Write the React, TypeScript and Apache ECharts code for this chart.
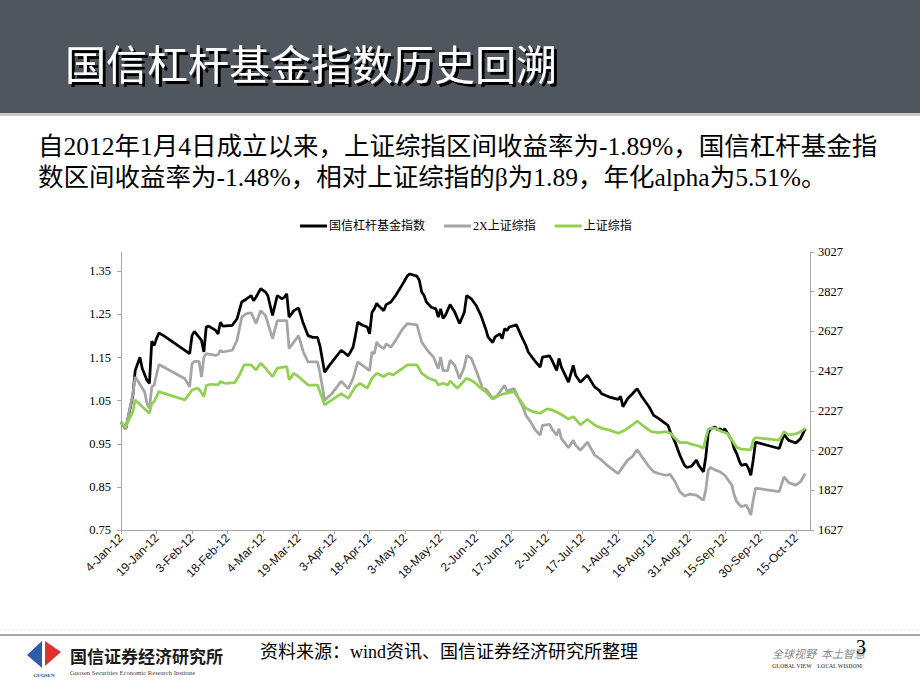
import React, { useEffect, useRef } from "react";
import * as echarts from "echarts";

// ---- Data (x = days since 4-Jan-2012) ----
const seriesNames = ["国信杠杆基金指数", "2X上证综指", "上证综指"];

const fundDays = [0,2,5,6,8,9,11,12,13,14,15,16,18,27,29,30,31,33,34,35,36,37,40,41,42,43,47,49,51,53,55,56,57,59,61,62,64,66,68,69,70,71,73,75,77,79,81,83,84,86,88,93,94,96,98,99,100,102,104,105,106,107,108,109,111,112,114,116,119,121,122,125,126,127,128,129,131,133,134,135,136,137,139,141,143,145,146,148,150,152,154,155,157,158,160,161,162,163,164,167,169,171,172,174,175,177,178,181,182,184,185,186,189,191,192,194,197,200,202,203,206,210,211,212,214,216,218,220,223,225,227,229,231,232,234,236,238,239,241,243,244,246,247,248,249,251,252,253,254,255,258,259,260,261,262,264,265,266,267,268,278,280,282,285,287,289];
const fundValues = [1.000,0.985,1.062,1.120,1.151,1.124,1.097,1.090,1.188,1.178,1.194,1.207,1.201,1.167,1.159,1.201,1.211,1.197,1.190,1.163,1.221,1.223,1.213,1.205,1.232,1.223,1.225,1.240,1.279,1.286,1.294,1.282,1.290,1.310,1.302,1.294,1.248,1.294,1.286,1.290,1.298,1.244,1.259,1.265,1.229,1.201,1.197,1.197,1.178,1.116,1.132,1.167,1.163,1.154,1.174,1.201,1.232,1.225,1.221,1.205,1.255,1.263,1.276,1.269,1.259,1.273,1.279,1.294,1.321,1.340,1.344,1.339,1.329,1.302,1.294,1.279,1.267,1.263,1.244,1.263,1.241,1.248,1.273,1.255,1.229,1.255,1.294,1.286,1.271,1.248,1.217,1.198,1.185,1.198,1.205,1.194,1.217,1.213,1.221,1.226,1.201,1.178,1.163,1.148,1.141,1.128,1.151,1.154,1.144,1.120,1.148,1.128,1.093,1.132,1.109,1.093,1.109,1.082,1.074,1.066,1.059,1.053,1.060,1.036,1.055,1.066,1.078,1.059,1.036,1.016,1.009,1.001,0.993,0.978,0.954,0.924,0.900,0.895,0.898,0.912,0.900,0.885,0.920,0.974,0.985,0.989,0.982,0.985,0.978,0.985,0.958,0.939,0.928,0.912,0.900,0.903,0.893,0.877,0.912,0.954,0.939,0.972,0.958,0.952,0.962,0.985];

const doubleDays = [0,2,5,6,7,10,11,12,13,14,16,18,27,29,30,31,33,34,35,36,40,41,42,43,47,49,51,53,55,57,59,61,64,66,70,71,73,75,77,79,83,84,86,89,93,96,98,100,102,105,106,107,108,109,111,112,114,116,119,121,125,127,128,130,132,134,135,136,138,139,141,143,145,146,148,150,152,153,154,157,159,160,162,163,164,166,168,170,171,173,175,177,178,181,182,184,185,186,189,191,192,194,197,200,203,206,210,212,214,216,218,220,223,225,227,230,232,234,236,238,240,243,246,247,248,249,251,253,255,258,259,260,262,264,265,266,267,268,278,280,282,285,287,289];
const doubleValues = [1.000,0.984,1.066,1.105,1.097,1.070,1.043,1.032,1.082,1.086,1.134,1.128,1.101,1.082,1.136,1.141,1.141,1.105,1.151,1.159,1.155,1.157,1.167,1.163,1.167,1.190,1.244,1.252,1.254,1.229,1.259,1.248,1.194,1.236,1.236,1.171,1.186,1.201,1.163,1.140,1.140,1.116,1.051,1.066,1.095,1.078,1.101,1.140,1.132,1.120,1.163,1.159,1.186,1.178,1.171,1.182,1.174,1.190,1.217,1.229,1.226,1.186,1.178,1.163,1.151,1.124,1.151,1.120,1.120,1.144,1.132,1.101,1.128,1.155,1.148,1.120,1.090,1.074,1.078,1.055,1.063,1.070,1.086,1.072,1.074,1.078,1.055,1.032,1.016,1.001,0.982,0.970,0.993,0.995,0.985,0.970,0.985,0.962,0.941,0.958,0.947,0.935,0.954,0.924,0.912,0.897,0.881,0.897,0.912,0.920,0.937,0.920,0.897,0.885,0.881,0.877,0.879,0.862,0.839,0.829,0.833,0.831,0.819,0.843,0.889,0.895,0.889,0.885,0.877,0.854,0.831,0.816,0.804,0.808,0.798,0.785,0.819,0.847,0.839,0.873,0.860,0.854,0.862,0.881];

const sseDays = [0,2,5,6,9,12,13,14,16,27,30,32,33,35,36,38,41,42,44,48,50,52,55,57,59,61,64,66,70,71,73,75,79,83,86,88,93,96,99,101,104,106,108,111,113,115,118,121,125,127,130,133,134,136,138,139,142,146,149,152,154,157,160,163,166,169,171,174,177,180,182,185,189,191,192,194,197,200,203,206,210,213,216,218,221,224,227,230,232,234,236,239,242,244,246,247,248,249,251,254,256,258,260,262,266,267,268,278,280,282,285,287,289];
const sseValues = [2170,2147,2223,2282,2248,2215,2265,2273,2324,2282,2332,2341,2336,2299,2354,2361,2358,2374,2366,2369,2408,2458,2458,2433,2467,2442,2399,2442,2450,2383,2416,2399,2357,2357,2257,2273,2314,2290,2349,2366,2341,2391,2416,2399,2416,2408,2433,2458,2458,2416,2391,2378,2357,2366,2357,2378,2341,2391,2374,2341,2324,2287,2307,2316,2324,2273,2240,2223,2215,2237,2232,2215,2186,2198,2185,2156,2185,2156,2139,2131,2114,2131,2156,2176,2147,2122,2117,2122,2114,2089,2067,2067,2055,2050,2039,2089,2134,2139,2139,2122,2114,2080,2044,2034,2030,2080,2092,2080,2122,2106,2111,2122,2139];

const xTickDays = [0,15,30,45,60,75,90,105,120,135,150,165,180,195,210,225,240,255,270,285];
const leftTicks = [0.75,0.85,0.95,1.05,1.15,1.25,1.35];
const rightTicks = [1627,1827,2027,2227,2427,2627,2827,3027];
const monthNames = ["Jan","Feb","Mar","Apr","May","Jun","Jul","Aug","Sep","Oct","Nov","Dec"];

const titleText = "国信杠杆基金指数历史回溯";
const subtitleLine1 = "自2012年1月4日成立以来，上证综指区间收益率为-1.89%，国信杠杆基金指";
const subtitleLine2 = "数区间收益率为-1.48%，相对上证综指的β为1.89，年化alpha为5.51%。";
const sourceText = "资料来源：wind资讯、国信证券经济研究所整理";

function dayLabel(d: number): string {
  const dt = new Date(2012, 0, 4 + d);
  return `${dt.getDate()}-${monthNames[dt.getMonth()]}-12`;
}

function pairs(xs: number[], ys: number[]) {
  return xs.map((x, i) => [x, ys[i]]);
}

const SERIF = "'Liberation Serif', 'Noto Sans CJK SC', serif";
const CJK = "'Noto Sans CJK SC', sans-serif";

export default function App() {
  const ref = useRef<HTMLDivElement>(null);
  useEffect(() => {
    document.body.style.margin = "0";
    if (!ref.current) return;
    const chart = echarts.init(ref.current, undefined, { renderer: "svg" });
    const axisColor = "#a6a6a6";
    chart.setOption({
      animation: false,
      backgroundColor: "#ffffff",
      grid: { left: 121, right: 110, top: 252, bottom: 160 },
      legend: {
        left: 295,
        top: 215,
        itemWidth: 27,
        itemHeight: 3,
        itemGap: 19,
        icon: "rect",
        data: seriesNames,
        textStyle: { fontSize: 12, fontFamily: SERIF, color: "#000", padding: [0, 0, 0, -3] },
      },
      xAxis: {
        type: "value",
        min: 0,
        max: 291,
        interval: 15,
        splitLine: { show: false },
        axisLine: { onZero: false, lineStyle: { color: axisColor } },
        axisTick: { customValues: xTickDays, length: 4, lineStyle: { color: axisColor } },
        axisLabel: {
          customValues: xTickDays,
          rotate: 45,
          margin: 6,
          fontSize: 12,
          fontFamily: "'Liberation Sans', Arial, sans-serif",
          color: "#111",
          formatter: (v: number) => dayLabel(Math.round(v)),
        },
      },
      yAxis: [
        {
          type: "value",
          min: 0.75,
          max: 1.395,
          splitLine: { show: false },
          axisLine: { show: true, lineStyle: { color: axisColor } },
          axisTick: { show: true, customValues: leftTicks, length: 4, lineStyle: { color: axisColor } },
          axisLabel: {
            customValues: leftTicks,
            margin: 10,
            fontSize: 12.5,
            fontFamily: SERIF,
            color: "#000",
            formatter: (v: number) => v.toFixed(2),
          },
        },
        {
          type: "value",
          position: "right",
          min: 1627,
          max: 3027,
          splitLine: { show: false },
          axisLine: { show: true, lineStyle: { color: axisColor } },
          axisTick: { show: true, customValues: rightTicks, length: 4, lineStyle: { color: axisColor } },
          axisLabel: {
            customValues: rightTicks,
            margin: 8,
            fontSize: 12.5,
            fontFamily: SERIF,
            color: "#000",
            formatter: (v: number) => String(Math.round(v)),
          },
        },
      ],
      series: [
        {
          name: seriesNames[0],
          type: "line",
          yAxisIndex: 0,
          showSymbol: false,
          symbol: "none",
          color: "#000000",
          lineStyle: { width: 2.75, color: "#000000" },
          data: pairs(fundDays, fundValues),
        },
        {
          name: seriesNames[1],
          type: "line",
          yAxisIndex: 0,
          showSymbol: false,
          symbol: "none",
          color: "#a5a5a5",
          lineStyle: { width: 2.75, color: "#a5a5a5" },
          data: pairs(doubleDays, doubleValues),
        },
        {
          name: seriesNames[2],
          type: "line",
          yAxisIndex: 1,
          showSymbol: false,
          symbol: "none",
          color: "#92d050",
          lineStyle: { width: 2.75, color: "#92d050" },
          data: pairs(sseDays, sseValues),
        },
      ],
      graphic: [
        { type: "rect", shape: { x: 0, y: 0, width: 920, height: 113 }, style: { fill: "#4f565e" }, silent: true },
        { type: "rect", shape: { x: 0, y: 113, width: 920, height: 3 }, style: { fill: "#c5c8cb" }, silent: true },
        {
          type: "text", x: 65, y: 62,
          style: {
            text: titleText, fill: "#ffffff", font: `41px ${CJK}`, textVerticalAlign: "middle",
            textShadowColor: "#000000", textShadowOffsetX: 3, textShadowOffsetY: 3, textShadowBlur: 1,
          },
        },
        {
          type: "text", x: 38, y: 146,
          style: { text: subtitleLine1, fill: "#000000", font: `25.5px ${SERIF}`, textVerticalAlign: "middle" },
        },
        {
          type: "text", x: 38, y: 177,
          style: { text: subtitleLine2, fill: "#000000", font: `25.5px ${SERIF}`, textVerticalAlign: "middle" },
        },
        { type: "line", shape: { x1: 0, y1: 630, x2: 920, y2: 630 }, style: { stroke: "#e2e2e2", lineWidth: 1, lineDash: [2, 2] } },
        { type: "rect", shape: { x: 0, y: 634, width: 920, height: 2 }, style: { fill: "#a8a8a8" } },
        { type: "polygon", shape: { points: [[27, 655], [42, 641], [42, 668]] }, style: { fill: "#2f5ea8" } },
        { type: "polygon", shape: { points: [[45, 641], [61, 652], [45, 666]] }, style: { fill: "#e0312c" } },
        {
          type: "text", x: 44, y: 675,
          style: { text: "GUOSEN", fill: "#1f3f7a", font: `bold 5px ${SERIF}`, textAlign: "center", textVerticalAlign: "middle" },
        },
        {
          type: "text", x: 70, y: 655,
          style: { text: "国信证券经济研究所", fill: "#1a1a1a", font: `bold 17px ${CJK}`, textVerticalAlign: "middle" },
        },
        {
          type: "text", x: 70, y: 672,
          style: { text: "Guosen Securities Economic Research Institute", fill: "#444444", font: `6.6px ${SERIF}`, textVerticalAlign: "middle" },
        },
        {
          type: "text", x: 260, y: 652,
          style: { text: sourceText, fill: "#000000", font: `18px ${SERIF}`, textVerticalAlign: "middle" },
        },
        {
          type: "text", x: 772, y: 653,
          style: { text: "全球视野  本土智慧", fill: "#8a8a8a", font: `italic 11px ${CJK}`, textVerticalAlign: "middle" },
        },
        {
          type: "text", x: 772, y: 666,
          style: { text: "GLOBAL VIEW    LOCAL WISDOM", fill: "#666666", font: `bold 5.5px ${SERIF}`, textVerticalAlign: "middle" },
        },
        {
          type: "text", x: 856, y: 647,
          style: { text: "3", fill: "#000000", font: `20px ${SERIF}`, textVerticalAlign: "middle" },
        },
      ],
    });
    return () => chart.dispose();
  }, []);
  return (
    <div
      ref={ref}
      style={{ position: "absolute", left: 0, top: 0, width: 920, height: 690, background: "#fff" }}
    />
  );
}
